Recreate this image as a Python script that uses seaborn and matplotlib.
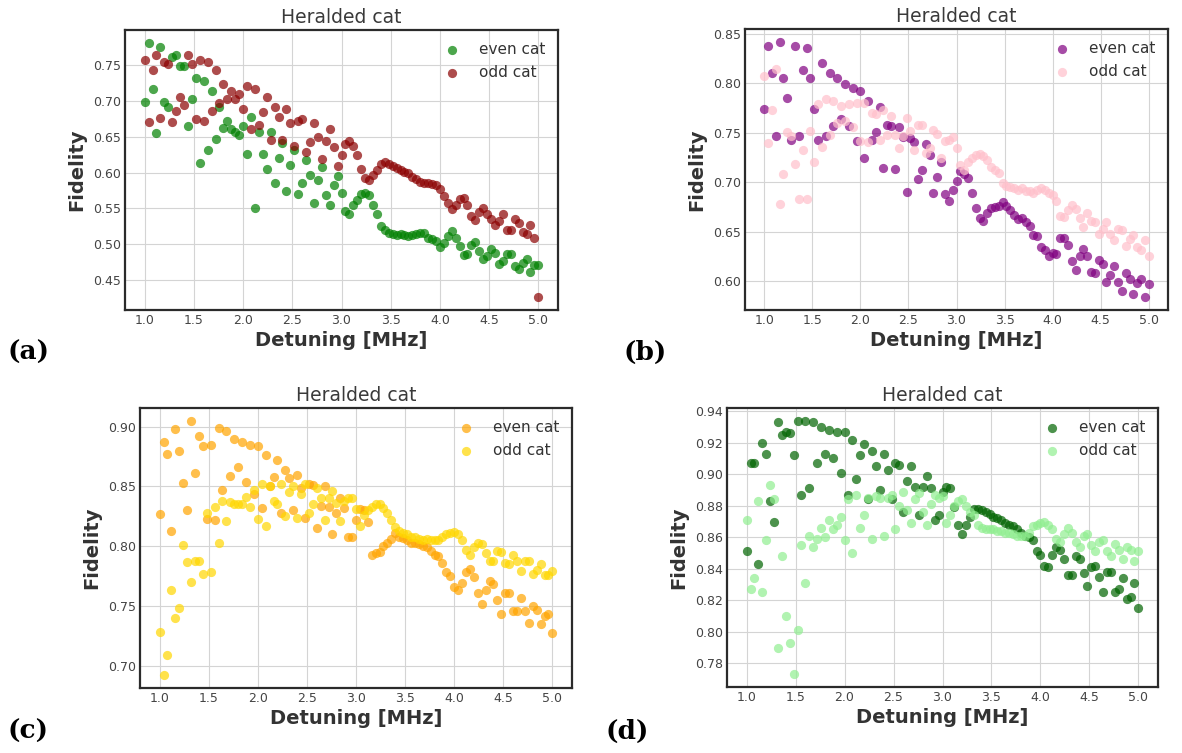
import matplotlib
matplotlib.use("Agg")
import matplotlib.pyplot as plt
import pandas as pd
import seaborn as sns

# Detuning sweep shared by every measurement (MHz)
DETUNING = [
    1.00, 1.04, 1.08, 1.12, 1.16, 1.20, 1.24, 1.28, 1.32, 1.36,
    1.40, 1.44, 1.48, 1.52, 1.56, 1.60, 1.64, 1.68, 1.72, 1.76,
    1.80, 1.84, 1.88, 1.92, 1.96, 2.00, 2.04, 2.08, 2.12, 2.16,
    2.20, 2.24, 2.28, 2.32, 2.36, 2.40, 2.44, 2.48, 2.52, 2.56,
    2.60, 2.64, 2.68, 2.72, 2.76, 2.80, 2.84, 2.88, 2.92, 2.96,
    3.00, 3.04, 3.08, 3.12, 3.16, 3.20, 3.24, 3.28, 3.32, 3.36,
    3.40, 3.44, 3.48, 3.52, 3.56, 3.60, 3.64, 3.68, 3.72, 3.76,
    3.80, 3.84, 3.88, 3.92, 3.96, 4.00, 4.04, 4.08, 4.12, 4.16,
    4.20, 4.24, 4.28, 4.32, 4.36, 4.40, 4.44, 4.48, 4.52, 4.56,
    4.60, 4.64, 4.68, 4.72, 4.76, 4.80, 4.84, 4.88, 4.92, 4.96,
    5.00,
]

# (a) fidelities
A_EVEN = [
    0.698, 0.781, 0.716, 0.655, 0.775, 0.699, 0.692, 0.761, 0.764, 0.748,
    0.749, 0.665, 0.702, 0.732, 0.613, 0.728, 0.632, 0.714, 0.647, 0.691,
    0.662, 0.672, 0.660, 0.656, 0.652, 0.665, 0.626, 0.677, 0.550, 0.657,
    0.626, 0.605, 0.656, 0.586, 0.620, 0.641, 0.574, 0.611, 0.632, 0.570,
    0.586, 0.618, 0.596, 0.557, 0.590, 0.607, 0.568, 0.554, 0.582, 0.595,
    0.572, 0.547, 0.542, 0.554, 0.562, 0.570, 0.572, 0.568, 0.555, 0.542,
    0.526, 0.520, 0.516, 0.514, 0.513, 0.514, 0.513, 0.511, 0.513, 0.514,
    0.516, 0.516, 0.508, 0.507, 0.505, 0.496, 0.502, 0.511, 0.519, 0.509,
    0.498, 0.485, 0.487, 0.499, 0.503, 0.491, 0.479, 0.484, 0.494, 0.488,
    0.472, 0.477, 0.486, 0.486, 0.470, 0.465, 0.474, 0.480, 0.461, 0.471,
    0.471,
]
A_ODD = [
    0.757, 0.670, 0.743, 0.764, 0.676, 0.754, 0.751, 0.670, 0.686, 0.705,
    0.694, 0.764, 0.751, 0.674, 0.757, 0.672, 0.754, 0.686, 0.743, 0.697,
    0.723, 0.702, 0.714, 0.702, 0.710, 0.689, 0.721, 0.661, 0.717, 0.666,
    0.685, 0.705, 0.645, 0.692, 0.678, 0.645, 0.689, 0.669, 0.637, 0.672,
    0.674, 0.629, 0.642, 0.669, 0.649, 0.619, 0.644, 0.660, 0.635, 0.609,
    0.624, 0.640, 0.644, 0.637, 0.624, 0.605, 0.593, 0.590, 0.597, 0.604,
    0.612, 0.614, 0.612, 0.609, 0.606, 0.604, 0.601, 0.599, 0.594, 0.591,
    0.587, 0.586, 0.585, 0.584, 0.582, 0.577, 0.567, 0.558, 0.549, 0.554,
    0.563, 0.564, 0.554, 0.539, 0.534, 0.545, 0.551, 0.542, 0.535, 0.527,
    0.532, 0.542, 0.520, 0.520, 0.535, 0.530, 0.517, 0.514, 0.527, 0.509,
    0.426,
]

# (b) fidelities
B_EVEN = [
    0.774, 0.838, 0.810, 0.747, 0.842, 0.805, 0.785, 0.743, 0.838, 0.747,
    0.813, 0.836, 0.805, 0.774, 0.743, 0.821, 0.747, 0.810, 0.757, 0.805,
    0.764, 0.799, 0.757, 0.795, 0.742, 0.792, 0.725, 0.782, 0.743, 0.751,
    0.776, 0.715, 0.758, 0.757, 0.714, 0.756, 0.746, 0.690, 0.745, 0.741,
    0.703, 0.712, 0.739, 0.728, 0.689, 0.705, 0.721, 0.688, 0.681, 0.692,
    0.701, 0.711, 0.708, 0.704, 0.689, 0.674, 0.664, 0.661, 0.669, 0.674,
    0.675, 0.676, 0.680, 0.676, 0.672, 0.667, 0.663, 0.664, 0.660, 0.656,
    0.647, 0.646, 0.635, 0.632, 0.626, 0.629, 0.628, 0.644, 0.644, 0.637,
    0.621, 0.612, 0.626, 0.633, 0.626, 0.609, 0.608, 0.622, 0.618, 0.599,
    0.606, 0.616, 0.599, 0.590, 0.608, 0.602, 0.587, 0.598, 0.602, 0.584,
    0.597,
]
B_ODD = [
    0.807, 0.740, 0.773, 0.814, 0.678, 0.708, 0.751, 0.747, 0.719, 0.683,
    0.733, 0.683, 0.752, 0.721, 0.779, 0.736, 0.784, 0.748, 0.782, 0.760,
    0.777, 0.762, 0.779, 0.756, 0.780, 0.742, 0.780, 0.741, 0.770, 0.769,
    0.743, 0.773, 0.748, 0.767, 0.748, 0.735, 0.747, 0.765, 0.752, 0.733,
    0.758, 0.758, 0.730, 0.735, 0.753, 0.749, 0.725, 0.742, 0.743, 0.746,
    0.735, 0.718, 0.713, 0.721, 0.725, 0.728, 0.729, 0.727, 0.723, 0.716,
    0.712, 0.709, 0.699, 0.696, 0.695, 0.694, 0.692, 0.694, 0.691, 0.691,
    0.689, 0.692, 0.694, 0.692, 0.689, 0.687, 0.681, 0.666, 0.665, 0.672,
    0.677, 0.673, 0.664, 0.655, 0.669, 0.661, 0.660, 0.648, 0.653, 0.660,
    0.648, 0.642, 0.653, 0.652, 0.636, 0.643, 0.647, 0.635, 0.632, 0.642,
    0.626,
]

# (c) fidelities
C_EVEN = [
    0.827, 0.887, 0.877, 0.813, 0.898, 0.880, 0.853, 0.830, 0.905, 0.861,
    0.892, 0.884, 0.823, 0.885, 0.822, 0.899, 0.847, 0.896, 0.859, 0.890,
    0.866, 0.887, 0.854, 0.885, 0.844, 0.884, 0.832, 0.876, 0.850, 0.858,
    0.872, 0.828, 0.864, 0.857, 0.830, 0.860, 0.849, 0.824, 0.852, 0.851,
    0.815, 0.834, 0.850, 0.833, 0.810, 0.828, 0.840, 0.832, 0.808, 0.808,
    0.822, 0.831, 0.830, 0.820, 0.793, 0.794, 0.795, 0.800, 0.803, 0.806,
    0.811, 0.808, 0.807, 0.805, 0.803, 0.803, 0.802, 0.800, 0.799, 0.796,
    0.793, 0.792, 0.786, 0.778, 0.775, 0.766, 0.763, 0.769, 0.778, 0.781,
    0.774, 0.761, 0.752, 0.763, 0.771, 0.768, 0.755, 0.743, 0.761, 0.761,
    0.746, 0.746, 0.757, 0.746, 0.736, 0.750, 0.747, 0.735, 0.742, 0.743,
    0.727,
]
C_ODD = [
    0.728, 0.692, 0.709, 0.763, 0.740, 0.748, 0.801, 0.787, 0.770, 0.788,
    0.788, 0.777, 0.828, 0.778, 0.833, 0.803, 0.838, 0.821, 0.837, 0.835,
    0.835, 0.835, 0.841, 0.833, 0.847, 0.823, 0.852, 0.817, 0.850, 0.838,
    0.835, 0.852, 0.825, 0.845, 0.850, 0.824, 0.844, 0.852, 0.828, 0.835,
    0.849, 0.840, 0.822, 0.840, 0.846, 0.836, 0.821, 0.838, 0.840, 0.840,
    0.831, 0.817, 0.826, 0.830, 0.833, 0.835, 0.835, 0.832, 0.828, 0.822,
    0.816, 0.813, 0.811, 0.810, 0.808, 0.808, 0.806, 0.805, 0.806, 0.805,
    0.805, 0.805, 0.808, 0.810, 0.811, 0.812, 0.810, 0.805, 0.797, 0.793,
    0.799, 0.803, 0.802, 0.794, 0.788, 0.788, 0.796, 0.795, 0.786, 0.785,
    0.793, 0.788, 0.779, 0.788, 0.788, 0.777, 0.780, 0.785, 0.776, 0.776,
    0.779,
]

# (d) fidelities
D_EVEN = [
    0.851, 0.907, 0.907, 0.843, 0.920, 0.913, 0.883, 0.870, 0.933, 0.925,
    0.927, 0.926, 0.912, 0.934, 0.887, 0.934, 0.891, 0.933, 0.907, 0.930,
    0.913, 0.928, 0.910, 0.927, 0.901, 0.927, 0.887, 0.922, 0.897, 0.912,
    0.919, 0.884, 0.915, 0.905, 0.890, 0.913, 0.903, 0.884, 0.907, 0.906,
    0.876, 0.896, 0.905, 0.892, 0.874, 0.892, 0.899, 0.891, 0.871, 0.874,
    0.889, 0.892, 0.891, 0.879, 0.868, 0.862, 0.868, 0.873, 0.878, 0.878,
    0.877, 0.876, 0.875, 0.873, 0.872, 0.871, 0.869, 0.868, 0.867, 0.865,
    0.863, 0.861, 0.860, 0.858, 0.851, 0.849, 0.842, 0.841, 0.849, 0.854,
    0.852, 0.846, 0.836, 0.836, 0.848, 0.846, 0.837, 0.829, 0.841, 0.842,
    0.835, 0.825, 0.838, 0.838, 0.825, 0.827, 0.834, 0.821, 0.822, 0.831,
    0.815,
]
D_ODD = [
    0.871, 0.827, 0.834, 0.883, 0.825, 0.858, 0.893, 0.884, 0.790, 0.848,
    0.810, 0.793, 0.773, 0.801, 0.855, 0.831, 0.861, 0.854, 0.859, 0.866,
    0.860, 0.871, 0.865, 0.868, 0.873, 0.858, 0.884, 0.850, 0.887, 0.866,
    0.874, 0.885, 0.859, 0.886, 0.885, 0.861, 0.885, 0.887, 0.865, 0.880,
    0.889, 0.877, 0.869, 0.884, 0.888, 0.876, 0.868, 0.881, 0.887, 0.885,
    0.886, 0.869, 0.874, 0.880, 0.883, 0.884, 0.880, 0.876, 0.874, 0.868,
    0.866, 0.865, 0.865, 0.865, 0.864, 0.864, 0.863, 0.863, 0.862, 0.861,
    0.861, 0.861, 0.863, 0.867, 0.868, 0.869, 0.870, 0.868, 0.865, 0.859,
    0.857, 0.862, 0.866, 0.863, 0.857, 0.854, 0.861, 0.862, 0.855, 0.851,
    0.857, 0.858, 0.851, 0.848, 0.856, 0.852, 0.846, 0.854, 0.852, 0.845,
    0.851,
]

SERIES_LABELS = ["even cat", "odd cat"]
X_TICKS = [1.0, 1.5, 2.0, 2.5, 3.0, 3.5, 4.0, 4.5, 5.0]
Y_TICKS_A = [0.45, 0.50, 0.55, 0.60, 0.65, 0.70, 0.75]
Y_TICKS_B = [0.60, 0.65, 0.70, 0.75, 0.80, 0.85]
Y_TICKS_C = [0.70, 0.75, 0.80, 0.85, 0.90]
Y_TICKS_D = [0.78, 0.80, 0.82, 0.84, 0.86, 0.88, 0.90, 0.92, 0.94]
PANEL_TAGS = ["(a)", "(b)", "(c)", "(d)"]
TITLE = "Heralded cat"
X_LABEL = "Detuning [MHz]"
Y_LABEL = "Fidelity"

sns.set_style("whitegrid", {
    "axes.edgecolor": "#2b2b2b",
    "grid.color": "#d4d4d4",
    "text.color": "#333333",
    "xtick.color": "#444444",
    "ytick.color": "#444444",
    "axes.labelcolor": "#333333",
})
plt.rcParams["font.family"] = ["DejaVu Sans"]
plt.rcParams["axes.linewidth"] = 1.6
plt.rcParams["xtick.major.pad"] = 3
plt.rcParams["ytick.major.pad"] = 3

W, H = 1182, 753
fig = plt.figure(figsize=(W / 100, H / 100), dpi=100)


def px_rect(left, top, right, bottom):
    return [left / W, 1 - bottom / H, (right - left) / W, (bottom - top) / H]


panels = [
    (px_rect(125, 30, 558, 310), A_EVEN, A_ODD, ("green", "darkred"), Y_TICKS_A, (7, 352)),
    (px_rect(745, 29, 1168, 310), B_EVEN, B_ODD, ("purple", "pink"), Y_TICKS_B, (624, 352)),
    (px_rect(140, 408, 572, 688), C_EVEN, C_ODD, ("orange", "gold"), Y_TICKS_C, (7, 731)),
    (px_rect(727, 408, 1158, 687), D_EVEN, D_ODD, ("darkgreen", "lightgreen"), Y_TICKS_D, (606, 731)),
]

for tag, (rect, even, odd, colors, yticks, tag_pos) in zip(PANEL_TAGS, panels):
    ax = fig.add_axes(rect)
    for values, label, color in zip((even, odd), SERIES_LABELS, colors):
        frame = pd.DataFrame({"detuning": DETUNING, "fidelity": values})
        sns.scatterplot(data=frame, x="detuning", y="fidelity", color=color,
                        alpha=0.7, s=44, linewidth=0, label=label,
                        legend=False, ax=ax)
    ax.set_xticks(X_TICKS)
    ax.set_yticks(yticks)
    ax.tick_params(labelsize=9, length=0)
    ax.set_title(TITLE, fontsize=13.5, color="#3a3a3a", pad=5)
    ax.set_xlabel(X_LABEL, fontsize=14, fontweight="bold", labelpad=3)
    ax.set_ylabel(Y_LABEL, fontsize=14, fontweight="bold", labelpad=5)
    ax.legend(loc="upper right", frameon=False, fontsize=11,
              labelcolor="#333333", borderaxespad=0.4)
    fig.text(tag_pos[0] / W, 1 - tag_pos[1] / H, tag, ha="left", va="center",
             fontsize=19, fontweight="bold", family="DejaVu Serif",
             color="black")

fig.savefig("out.png", dpi=100)
